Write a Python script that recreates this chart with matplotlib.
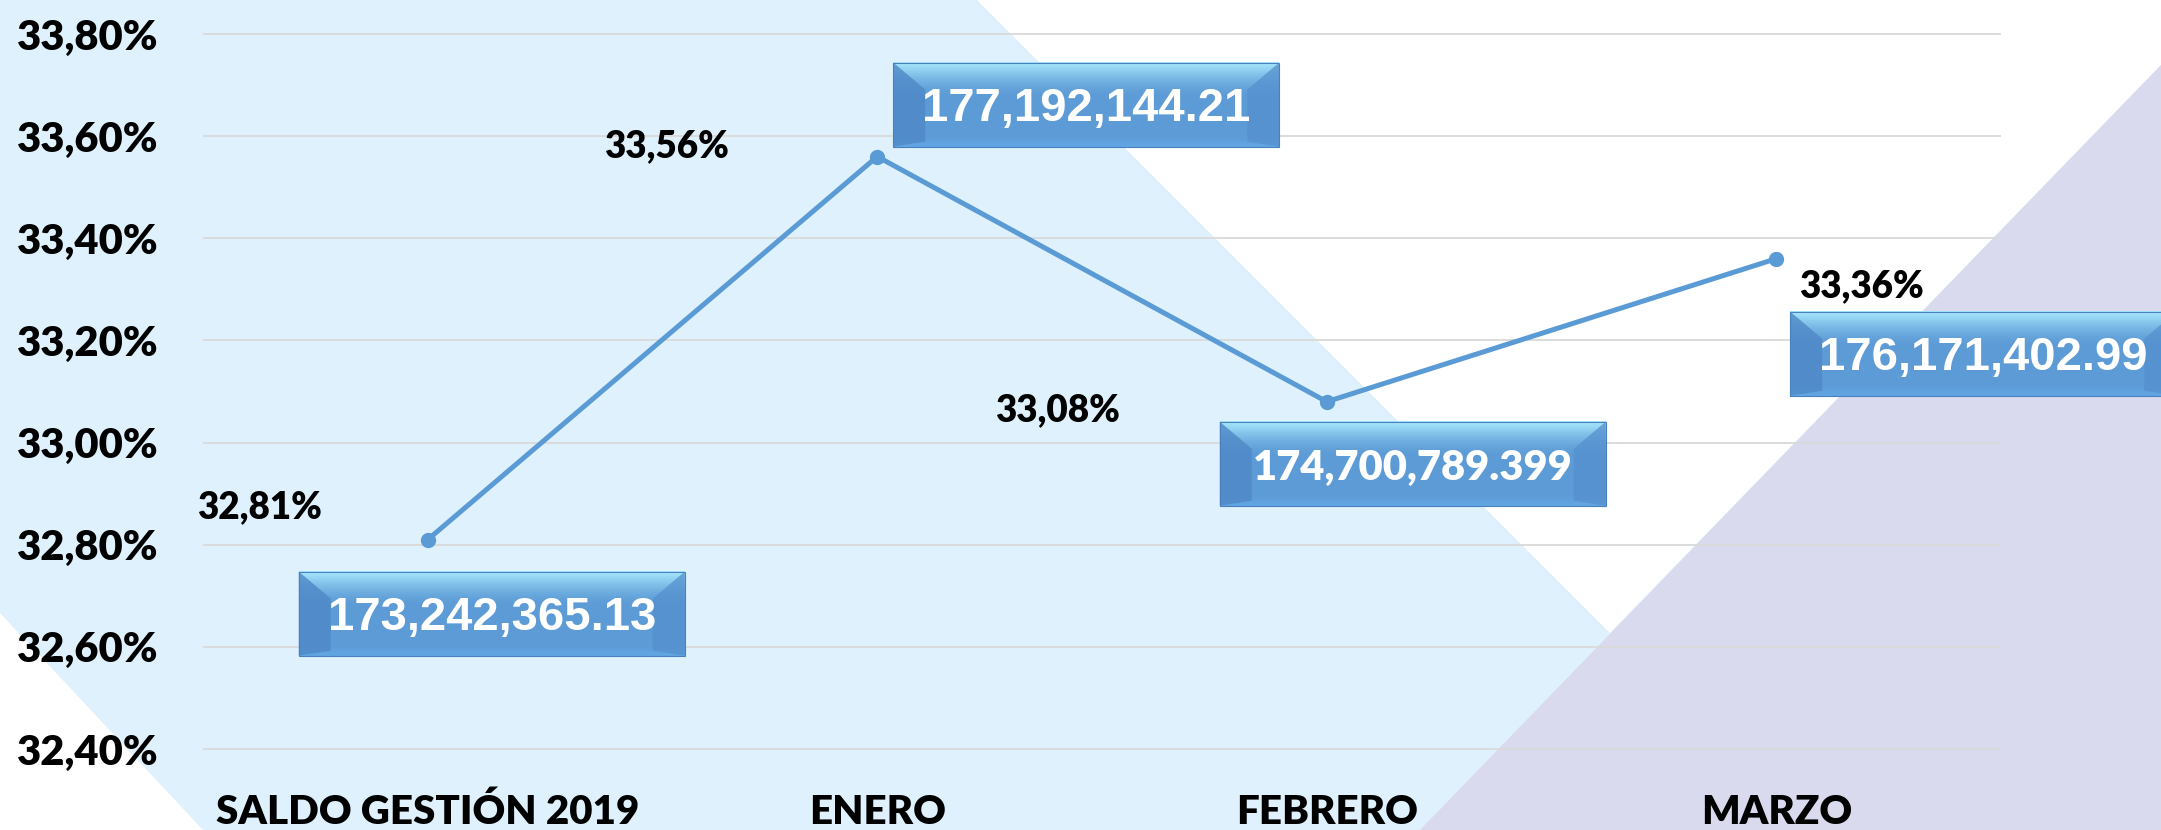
import numpy as np
import matplotlib
matplotlib.use("Agg")
import matplotlib.pyplot as plt
from matplotlib import font_manager as fm
from matplotlib.patches import Polygon, Rectangle
from matplotlib.transforms import IdentityTransform, ScaledTranslation
from matplotlib.ticker import FuncFormatter, FixedLocator

# ---------------- data ----------------
categorias = ["SALDO GESTIÓN 2019", "ENERO", "FEBRERO", "MARZO"]
porcentajes = [32.81, 33.56, 33.08, 33.36]
etiquetas_pct = ["32,81%", "33,56%", "33,08%", "33,36%"]
saldos = ["173,242,365.13", "177,192,144.21", "174,700,789.399", "176,171,402.99"]
yticks = [32.40, 32.60, 32.80, 33.00, 33.20, 33.40, 33.60, 33.80]

# ---------------- fonts ----------------
avail = {f.name for f in fm.fontManager.ttflist}
CAL = "Lato" if "Lato" in avail else "DejaVu Sans"
ARI = "Liberation Sans" if "Liberation Sans" in avail else "DejaVu Sans"
CAL_W = 800

W_PX, H_PX, DPI = 2161, 830, 100
fig = plt.figure(figsize=(W_PX / DPI, H_PX / DPI), dpi=DPI)
LIGHT_BLUE = "#DEF1FC"
LAVENDER = "#D9DAEE"
fig.patch.set_facecolor(LIGHT_BLUE)


def fpoly(pts, color, z=-10):
    # pts given in image pixel coords (y down)
    xy = [(x / W_PX, 1 - y / H_PX) for x, y in pts]
    p = Polygon(xy, closed=True, transform=fig.transFigure, facecolor=color,
                edgecolor="none", zorder=z)
    fig.add_artist(p)


# background shapes
fpoly([(977, 0), (2161, 0), (2161, 65), (1610, 633)], "white")
fpoly([(2161, 65), (2161, 830), (1420, 830)], LAVENDER)
fpoly([(0, 613), (203, 830), (0, 830)], "white")

# ---------------- axes ----------------
ax_left, ax_right = 203, 2001
ax_top, ax_bot = 23.8, 759.2
ax = fig.add_axes([ax_left / W_PX, 1 - ax_bot / H_PX,
                   (ax_right - ax_left) / W_PX, (ax_bot - ax_top) / H_PX])
ax.set_facecolor("none")
ax.set_xlim(-0.5, 3.5)
ax.set_ylim(32.38, 33.82)
for s in ax.spines.values():
    s.set_visible(False)

ax.yaxis.set_major_locator(FixedLocator(yticks))
ax.yaxis.set_major_formatter(FuncFormatter(lambda v, p: f"{v:.2f}".replace(".", ",") + "%"))
ax.grid(axis="y", color="#D9D9D9", linewidth=1.3, zorder=0)
ax.set_axisbelow(True)
ax.tick_params(axis="y", length=0, pad=32, labelsize=30)
for lab in ax.get_yticklabels():
    lab.set_fontfamily(CAL)
    lab.set_fontweight(CAL_W)

x = np.arange(len(categorias))
ax.set_xticks(x)
ax.set_xticklabels(categorias, fontfamily=CAL, fontweight=CAL_W, fontsize=29)
ax.tick_params(axis="x", length=0, pad=25)

ax.plot(x, porcentajes, color="#5B9BD5", linewidth=3.6, marker="o",
        markersize=10, zorder=3, clip_on=False)

# percentage labels (offsets in pixels, display y up)
pct_offsets = [(-168, 35), (-211, 13), (-269, -6), (85, -25)]
for xi, yi, lab, (dx, dy) in zip(x, porcentajes, etiquetas_pct, pct_offsets):
    ax.annotate(lab, (xi, yi), xytext=(dx, dy - 13.5), textcoords="offset pixels",
                ha="center", va="baseline", fontsize=26.5, fontweight=CAL_W,
                fontfamily=CAL, color="black", annotation_clip=False, zorder=5)

# ---------------- value boxes ----------------
BW, BH = 386, 84
box_offsets = [(64, -74), (209, 52), (86, -62), (207, -95)]
box_fonts = [ARI, ARI, CAL, ARI]
box_weights = ["bold", "bold", CAL_W, "bold"]
box_sizes = [34, 34, 30, 34]

c_top = np.array([168, 232, 253]) / 255
c_mid = np.array([92, 155, 213]) / 255
c_bot = np.array([98, 166, 228]) / 255


def box_color(t):
    if t > 0.6:
        u = ((t - 0.6) / 0.4) ** 1.6
        return c_mid * (1 - u) + c_top * u
    if t < 0.12:
        u = (0.12 - t) / 0.12
        return c_mid * (1 - u) + c_bot * u
    return c_mid


def add(artist):
    ax.add_artist(artist)
    artist.set_clip_on(False)


def draw_box(xi, yi, dx, dy, text, family, weight, size):
    tr = IdentityTransform() + ScaledTranslation(xi, yi, ax.transData)
    L, B = dx - BW / 2, dy - BH / 2
    R, T = L + BW, B + BH
    n = 42
    hh = BH / n
    for k in range(n):
        t = (k + 0.5) / n
        add(Rectangle((L, B + k * hh), BW, hh + 0.6, transform=tr,
                      facecolor=box_color(t), edgecolor="none", zorder=6))
    bev, bt, bb = 32, 27, 5
    add(Polygon([(L, B), (L, T), (L + bev, T - bt), (L + bev, B + bb)],
                closed=True, transform=tr, facecolor="#4F88C7",
                edgecolor="none", alpha=0.8, zorder=7))
    add(Polygon([(R, B), (R, T), (R - bev, T - bt), (R - bev, B + bb)],
                closed=True, transform=tr, facecolor="#5590CE",
                edgecolor="none", alpha=0.75, zorder=7))
    add(Rectangle((L, B), BW, BH, transform=tr, facecolor="none",
                  edgecolor="#4A80BE", linewidth=0.8, zorder=8))
    ax.annotate(text, (xi, yi), xytext=(dx, dy - 16.5), textcoords="offset pixels",
                ha="center", va="baseline", fontsize=size, fontweight=weight,
                fontfamily=family, color="white", annotation_clip=False, zorder=9)


for xi, yi, s, (dx, dy), fam, fw, fs in zip(x, porcentajes, saldos, box_offsets,
                                            box_fonts, box_weights, box_sizes):
    draw_box(xi, yi, dx, dy, s, fam, fw, fs)

fig.savefig("out.png", dpi=DPI, facecolor=fig.get_facecolor())
